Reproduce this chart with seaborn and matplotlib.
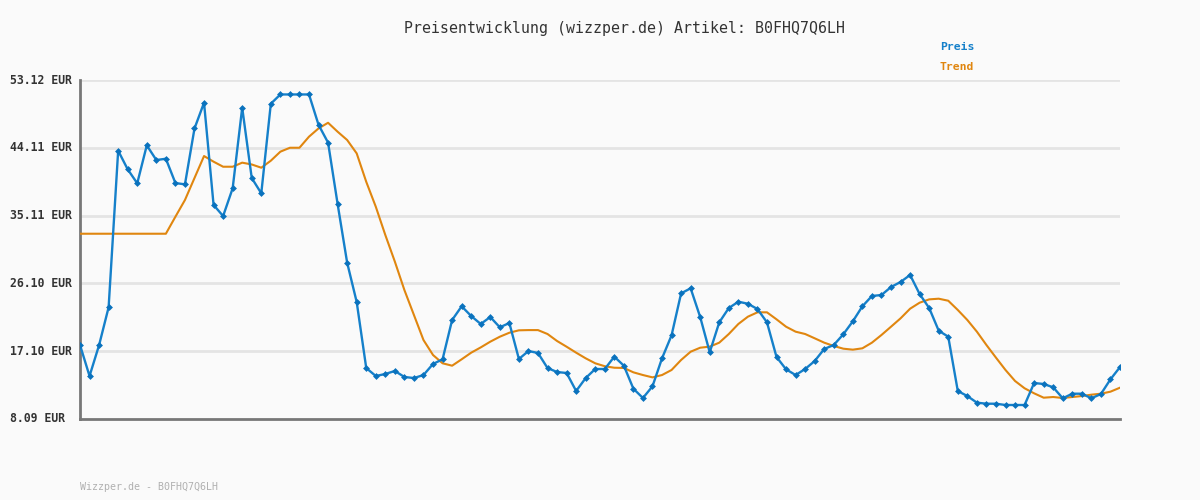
import numpy as np
import pandas as pd
import seaborn as sns
import matplotlib.pyplot as plt

# Preisverlauf
preis = [17.92, 13.80, 17.90, 22.93, 43.73, 41.25, 39.40, 44.44, 42.49, 42.66,
         39.43, 39.26, 46.68, 50.10, 36.52, 35.05, 38.73, 49.44, 40.10, 38.07,
         49.97, 51.20, 51.20, 51.20, 51.20, 47.17, 44.80, 36.65, 28.85, 23.63,
         14.86, 13.80, 14.07, 14.47, 13.67, 13.53, 13.93, 15.40, 16.02, 21.24,
         23.06, 21.77, 20.71, 21.64, 20.27, 20.84, 16.06, 17.12, 16.86, 14.86,
         14.33, 14.20, 11.81, 13.53, 14.73, 14.73, 16.37, 15.17, 12.11, 10.88,
         12.43, 16.15, 19.20, 24.78, 25.45, 21.64, 16.95, 20.93, 22.83, 23.67,
         23.40, 22.70, 20.93, 16.33, 14.69, 13.93, 14.73, 15.79, 17.39, 17.92,
         19.34, 21.07, 23.06, 24.43, 24.56, 25.62, 26.29, 27.22, 24.69, 22.83,
         19.82, 19.02, 11.81, 11.14, 10.26, 10.12, 10.12, 9.95, 9.95, 9.95,
         12.87, 12.74, 12.30, 10.84, 11.45, 11.45, 10.84, 11.41, 13.36, 14.99]

trend = [32.70, 32.70, 32.70, 32.70, 32.70, 32.70, 32.70, 32.70, 32.70, 32.70,
         34.96, 37.18, 40.10, 43.02, 42.27, 41.60, 41.60, 42.14, 41.90, 41.47,
         42.40, 43.60, 44.12, 44.12, 45.59, 46.69, 47.44, 46.25, 45.15, 43.37,
         39.60, 36.29, 32.53, 28.99, 25.22, 21.90, 18.58, 16.59, 15.49, 15.17,
         16.02, 16.90, 17.60, 18.36, 19.02, 19.55, 19.87, 19.90, 19.90, 19.38,
         18.45, 17.69, 16.90, 16.15, 15.49, 15.10, 14.90, 14.87, 14.29, 13.93,
         13.62, 13.93, 14.60, 15.93, 17.03, 17.56, 17.70, 18.23, 19.38, 20.71,
         21.68, 22.26, 22.26, 21.33, 20.35, 19.69, 19.38, 18.81, 18.23, 17.79,
         17.43, 17.30, 17.48, 18.23, 19.25, 20.35, 21.46, 22.74, 23.54, 23.98,
         24.07, 23.80, 22.57, 21.24, 19.69, 17.92, 16.24, 14.60, 13.14, 12.17,
         11.50, 10.92, 11.01, 10.88, 11.01, 11.14, 11.32, 11.45, 11.72, 12.25]

y_ticks = [8.09, 17.10, 26.10, 35.11, 44.11, 53.12]
artikel = "B0FHQ7Q6LH"

BLUE = "#1580ca"
ORANGE = "#e0860f"
MONO = "DejaVu Sans Mono"

df = pd.DataFrame({"tag": np.arange(len(preis)), "Preis": preis, "Trend": trend})

fig = plt.figure(figsize=(12, 5), dpi=100, facecolor="#fafafa")
ax = fig.add_axes([80 / 1200, 81 / 500, 1040 / 1200, 339 / 500])
ax.set_facecolor("#fafafa")

sns.lineplot(data=df, x="tag", y="Trend", color=ORANGE, lw=1.5, ax=ax, zorder=3)
sns.lineplot(data=df, x="tag", y="Preis", color=BLUE, lw=1.7, marker="D",
             markersize=3.5, markeredgewidth=0, markerfacecolor="#0a72bd",
             ax=ax, zorder=4)

ax.set_xlim(0, len(preis) - 1)
ax.set_ylim(y_ticks[0], y_ticks[-1])
ax.set_yticks(y_ticks)
ax.set_yticklabels([])
ax.set_xticks([])
ax.set_xlabel("")
ax.set_ylabel("")
ax.tick_params(length=0)
for t in y_ticks[1:]:
    ax.axhline(t, color="#e4e4e4", lw=2, zorder=1)

for s in ["top", "right"]:
    ax.spines[s].set_visible(False)
for s in ["left", "bottom"]:
    ax.spines[s].set_color("#777777")
    ax.spines[s].set_linewidth(2)

# Y-Achsenbeschriftung links ausgerichtet
for t in y_ticks:
    fig.text(10 / 1200, 1 - (80 + (53.12 - t) / 45.03 * 339) / 500, f"{t:.2f} EUR",
             family=MONO, weight="bold", fontsize=8.3, color="#333333",
             ha="left", va="center")

fig.text(624 / 1200, 1 - 28 / 500, f"Preisentwicklung (wizzper.de) Artikel: {artikel}",
         family=MONO, fontsize=10.7, color="#333333", ha="center", va="center")
fig.text(940 / 1200, 1 - 47 / 500, "Preis", family=MONO, weight="bold",
         fontsize=8.2, color=BLUE, ha="left", va="center")
fig.text(940 / 1200, 1 - 67 / 500, "Trend", family=MONO, weight="bold",
         fontsize=8.2, color=ORANGE, ha="left", va="center")
fig.text(80 / 1200, 1 - 487 / 500, f"Wizzper.de - {artikel}", family=MONO,
         fontsize=7.2, color="#b0b0b0", ha="left", va="center")

fig.savefig("out.png", dpi=100, facecolor=fig.get_facecolor())
